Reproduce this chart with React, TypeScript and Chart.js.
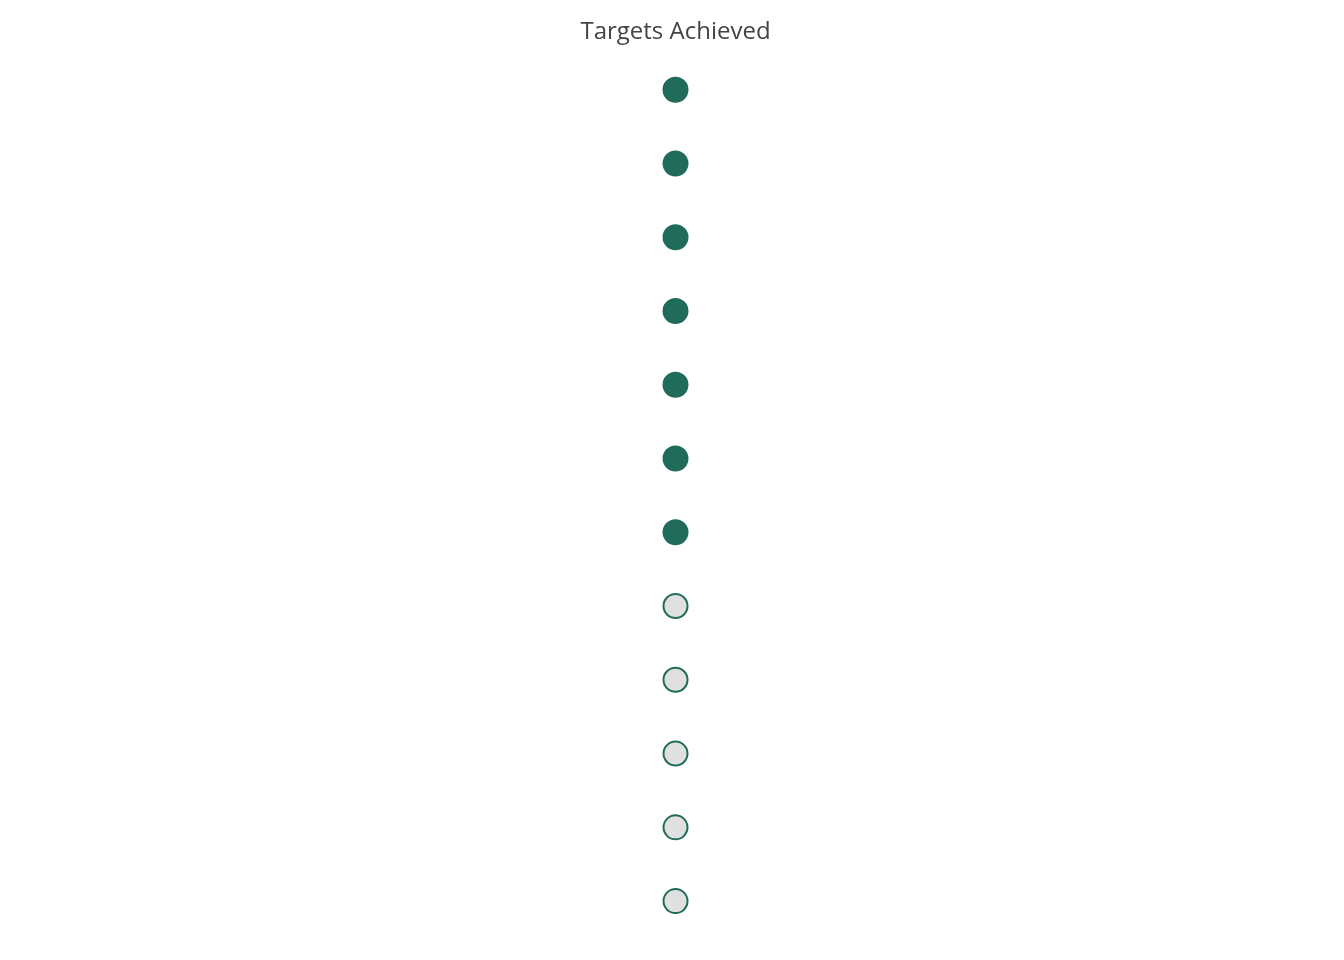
import React, { useEffect, useRef } from "react";
import { Chart, registerables } from "chart.js";

Chart.register(...registerables);

const titleText = "Targets Achieved";
const targets = ["1", "2", "3", "4", "5", "6", "7", "8", "9", "10", "11", "12"];
const achieved = [1, 1, 1, 1, 1, 1, 1, 0, 0, 0, 0, 0];

const GREEN = "#216b5b";
const EMPTY = "#e0e0e0";

export default function App() {
  const ref = useRef<HTMLCanvasElement | null>(null);
  useEffect(() => {
    if (!ref.current) return;
    const chart = new Chart(ref.current, {
      type: "scatter",
      data: {
        datasets: [
          {
            label: titleText,
            data: targets.map((_, i) => ({ x: 0, y: i })),
            backgroundColor: achieved.map((a) => (a ? GREEN : EMPTY)),
            borderColor: GREEN,
            borderWidth: 2,
            pointRadius: 12,
            pointHoverRadius: 12,
          },
        ],
      },
      options: {
        animation: false,
        responsive: true,
        maintainAspectRatio: false,
        layout: { autoPadding: false, padding: { left: 7, right: 0, top: 0, bottom: 14 } },
        plugins: {
          legend: { display: false },
          tooltip: { enabled: false },
          title: {
            display: true,
            text: titleText,
            color: "#444444",
            font: { family: "'Source Sans Pro', 'Open Sans', 'Noto Sans', sans-serif", size: 24, weight: "normal" },
            padding: { top: 10, bottom: 6 },
          },
        },
        scales: {
          x: { display: false, min: -1, max: 1 },
          y: { display: false, reverse: true, min: -0.5, max: 11.5 },
        },
      },
    });
    return () => chart.destroy();
  }, []);
  return (
    <div style={{ width: 1328, height: 944, position: "relative" }}>
      <canvas ref={ref} />
    </div>
  );
}
